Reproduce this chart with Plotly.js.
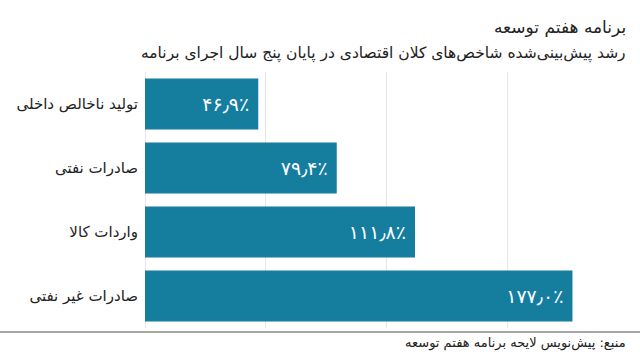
<!DOCTYPE html>
<html>
<head>
<meta charset="utf-8">
<script src="https://cdn.plot.ly/plotly-3.0.1.min.js"></script>
<style>html,body{margin:0;padding:0;background:#fff;}#chart{width:640px;height:360px;}</style>
</head>
<body>
<div id="chart"></div>
<script>
const categories = ["تولید ناخالص داخلی", "صادرات نفتی", "واردات کالا", "صادرات غیر نفتی"];
const values = [46.9, 79.4, 111.8, 177.0];
const valueLabels = ["۴۶٫۹٪", "۷۹٫۴٪", "۱۱۱٫۸٪", "۱۷۷٫۰٪"];
const titleText = "برنامه هفتم توسعه";
const subtitleText = "رشد پیش‌بینی‌شده شاخص‌های کلان اقتصادی در پایان پنج سال اجرای برنامه";
const sourceText = "منبع: پیش‌نویس لایحه برنامه هفتم توسعه";

const font = "DejaVu Sans, Noto Sans, sans-serif";
const trace = {
  type: "bar",
  orientation: "h",
  x: values,
  y: categories,
  text: valueLabels.map(function (s) { return s + "\u00a0"; }),
  textposition: "inside",
  insidetextanchor: "end",
  textfont: {family: font, size: 19, color: "#ffffff"},
  marker: {color: "#157e9f"},
  hoverinfo: "none",
  cliponaxis: false
};
const layout = {
  width: 640, height: 360,
  margin: {l: 145, r: 12, t: 72, b: 32},
  paper_bgcolor: "#ffffff", plot_bgcolor: "#ffffff",
  showlegend: false,
  bargap: 0.2,
  font: {family: font, color: "#222"},
  xaxis: {range: [0, 200], dtick: 50, showticklabels: false, showgrid: true,
          gridcolor: "#e6e6e6", zeroline: true, zerolinecolor: "#e6e6e6", zerolinewidth: 1,
          fixedrange: true},
  yaxis: {autorange: "reversed", showgrid: false, zeroline: false,
          tickfont: {family: font, size: 15, color: "#222"}, ticklabelstandoff: 6,
          fixedrange: true},
  annotations: [
    {text: titleText, xref: "paper", yref: "paper", x: 1, y: 1 + 45/256, xanchor: "right", yanchor: "middle",
     showarrow: false, font: {family: font, size: 17, color: "#222"}},
    {text: subtitleText, xref: "paper", yref: "paper", x: 1, y: 1 + 19/256, xanchor: "right", yanchor: "middle",
     showarrow: false, font: {family: font, size: 15.5, color: "#222"}},
    {text: sourceText, xref: "paper", yref: "paper", x: 1, y: -15/256, xanchor: "right", yanchor: "middle",
     showarrow: false, font: {family: font, size: 13, color: "#222"}}
  ],
  shapes: [
    {type: "line", xref: "paper", yref: "paper", x0: -145/483, x1: 1 + 12/483, y0: -4/256, y1: -4/256,
     line: {color: "#888888", width: 1.5}}
  ]
};
Plotly.newPlot("chart", [trace], layout, {displayModeBar: false, staticPlot: true});
</script>
</body>
</html>
